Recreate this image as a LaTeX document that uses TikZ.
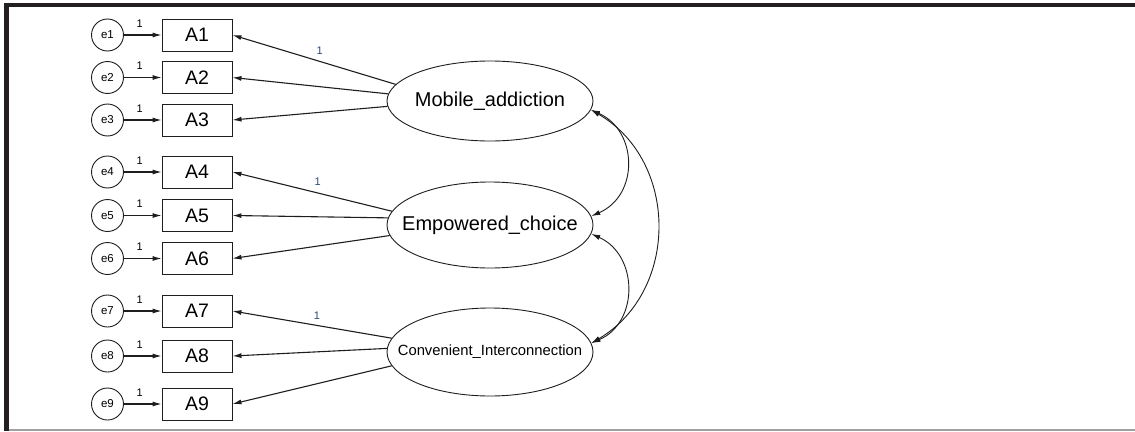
\documentclass[tikz,border=0pt]{standalone}
\usepackage{fontspec}
\setmainfont{Liberation Sans}
\usetikzlibrary{shapes.geometric,arrows.meta}
\definecolor{ink}{HTML}{1E1E1E}
\definecolor{frame}{HTML}{231F20}
\definecolor{rule}{HTML}{A0A0A0}
\definecolor{wt}{HTML}{2B4A78}
\begin{document}
\begin{tikzpicture}[x=1pt,y=-1pt,
  ind/.style={draw=ink, line width=0.9pt, minimum width=70pt, minimum height=32pt, inner sep=0pt,
    font=\fontsize{19.5}{20}\selectfont},
  err/.style={circle, draw=ink, line width=0.9pt, minimum size=32pt, inner sep=0pt,
    font=\fontsize{11.5}{12}\selectfont},
  lat/.style={ellipse, draw=ink, line width=0.9pt, minimum width=206pt, inner sep=0pt},
  reg/.style={draw=ink, line width=1.1pt, -{Latex[length=9pt,width=5pt]}},
  cov/.style={draw=ink, line width=0.9pt, {Latex[length=9pt,width=5pt]}-{Latex[length=9pt,width=5pt]}},
  one/.style={font=\fontsize{11}{11}\selectfont, inner sep=0pt},
  big/.style={label={[font=\fontsize{20}{21}\selectfont]center:#1}},
  small/.style={label={[font=\fontsize{14.8}{15}\selectfont]center:#1}},
]
% page and frame
\useasboundingbox (0,0) rectangle (1135,431);
\fill[white] (0,0) rectangle (1135,431);
\fill[frame] (4,3) rectangle (1135,7.3);
\fill[frame] (4,3) rectangle (8.5,431);
\draw[rule, line width=1.5pt] (8.5,429.8) -- (1135,429.8);

% latent variables
\node[lat, minimum height=80pt, big={Mobile\_addiction}] (M) at (490,101) {};
\node[lat, minimum height=86pt, big={Empowered\_choice}] (E) at (490,225) {};
\node[lat, minimum height=88pt, small={Convenient\_Interconnection}] (C) at (490,352) {};

% indicators and their error terms
\foreach \i/\y in {1/35,2/77.5,3/120,4/172,5/215.5,6/258.5,7/311,8/356,9/404}{
  \node[ind] (A\i) at (197,\y) {A\i};
  \node[err] (e\i) at (107.5,\y) {e\i};
  \draw[reg] (e\i) -- node[one, pos=0.42, above=7pt] {1} (A\i);
}

% factor loadings
\draw[reg] (M.170) -- node[one, pos=0.465, above=6pt, text=wt] {1} (A1.east);
\draw[reg] (M.176) -- (A2.east);
\draw[reg] (M.183) -- (A3.east);
\draw[reg] (E.172) -- node[one, pos=0.465, above=7pt, text=wt] {1} (A4.east);
\draw[reg] (E.176) -- (A5.east);
\draw[reg] (E.186) -- (A6.east);
\draw[reg] (C.172) -- node[one, pos=0.47, above=5pt, text=wt] {1} (A7.east);
\draw[reg] (C.178) -- (A8.east);
\draw[reg] (C.188) -- (A9.east);

% covariances
\draw[cov] (M.-5) .. controls +(47,21) and +(48,-21) .. (E.5);
\draw[cov] (E.-5) .. controls +(47,21) and +(48,-21) .. (C.5);
\draw[cov] (M.-5) .. controls +(88,51) and +(88,-52) .. (C.5);
\end{tikzpicture}
\end{document}
